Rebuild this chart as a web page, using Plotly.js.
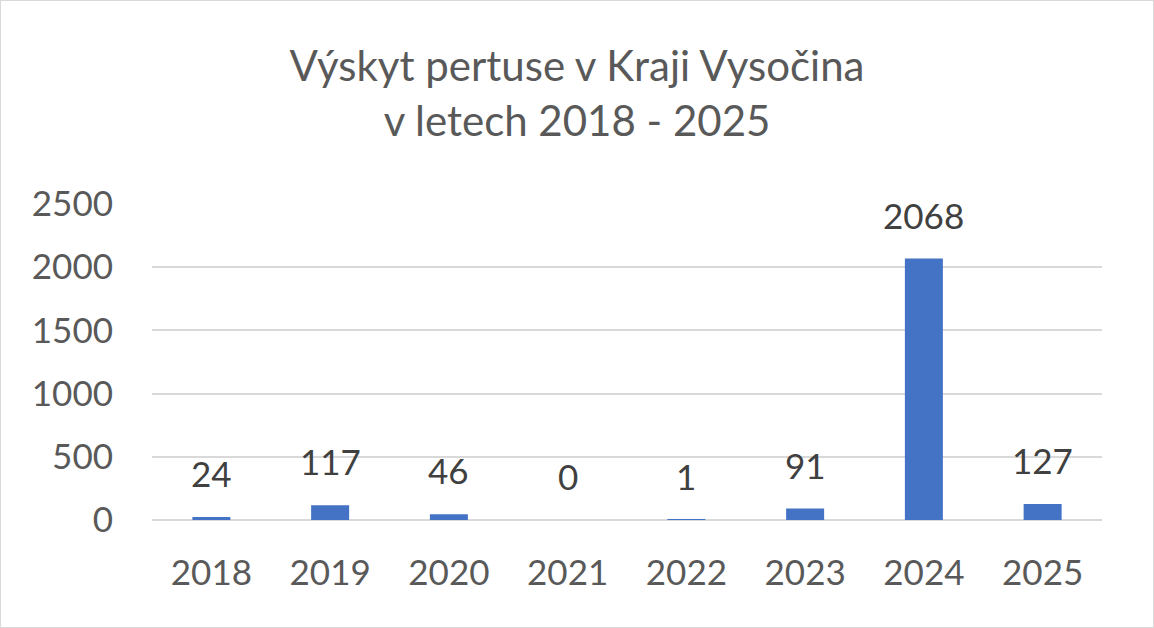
<!DOCTYPE html>
<html>
<head>
<meta charset="utf-8">
<script src="https://cdn.plot.ly/plotly-3.0.1.min.js"></script>
<style>
body { margin: 0; background: #fff; }
#chart { width: 1152px; height: 626px; border: 1px solid #d9d9d9; }
</style>
</head>
<body>
<div id="chart"></div>
<script>
var years = ['2018', '2019', '2020', '2021', '2022', '2023', '2024', '2025'];
var cases = [24, 117, 46, 0, 1, 91, 2068, 127];
var titleLines = ['Výskyt pertuse v Kraji Vysočina', 'v letech 2018 - 2025'];

var fontFam = 'Lato, "Open Sans", sans-serif';

// value labels above each bar (x as category index so the axis range stays put)
var labels = [];
for (var i = 0; i < years.length; i++) {
	labels.push({
		x: i,
		y: cases[i],
		text: String(cases[i]),
		showarrow: false,
		yanchor: 'middle',
		yshift: 44,
		font: {family: fontFam, size: 35, color: '#404040'}
	});
}

var data = [{
	type: 'bar',
	x: years,
	y: cases,
	marker: {color: '#4472c4'},
	hoverinfo: 'x+y'
}];

var layout = {
	width: 1152,
	height: 626,
	margin: {l: 151, r: 51, t: 203, b: 107},
	paper_bgcolor: '#fff',
	plot_bgcolor: '#fff',
	bargap: 0.68,
	showlegend: false,
	title: {
		text: titleLines.join('<br>'),
		x: 0.5,
		xanchor: 'center',
		y: 0.872,
		yanchor: 'top',
		font: {family: fontFam, size: 42, color: '#595959'}
	},
	xaxis: {
		type: 'category',
		range: [-0.5, years.length - 0.5],
		showgrid: false,
		showline: false,
		ticks: '',
		ticklabelstandoff: 29,
		tickfont: {family: fontFam, size: 35, color: '#595959'}
	},
	yaxis: {
		range: [0, 2500],
		dtick: 500,
		showgrid: true,
		gridcolor: '#d9d9d9',
		gridwidth: 2,
		zeroline: true,
		zerolinecolor: '#d9d9d9',
		zerolinewidth: 2,
		showline: false,
		ticks: '',
		ticklabelstandoff: 38,
		tickfont: {family: fontFam, size: 35, color: '#595959'}
	},
	annotations: labels
};

Plotly.newPlot('chart', data, layout, {displayModeBar: false});
</script>
</body>
</html>
